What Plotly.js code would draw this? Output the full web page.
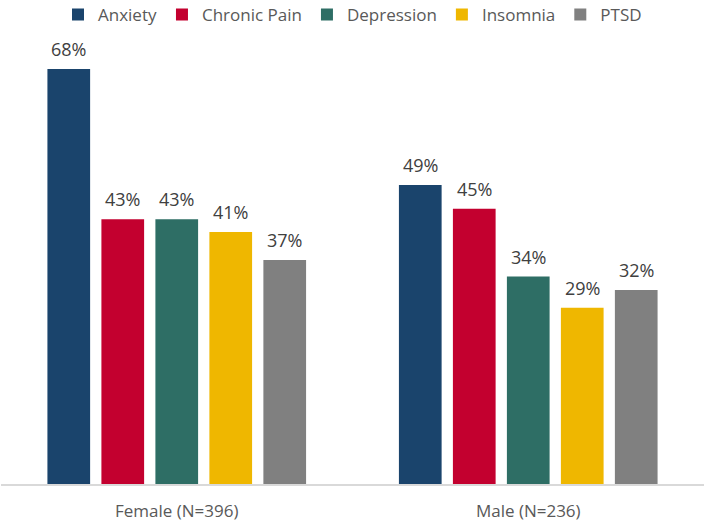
<!DOCTYPE html>
<html>
<head>
<meta charset="utf-8">
<script src="https://cdn.plot.ly/plotly-3.0.1.min.js"></script>
<style>
  html, body { margin: 0; padding: 0; background: #ffffff; }
  #chart { width: 705px; height: 522px; }
</style>
</head>
<body>
<div id="chart"></div>
<script>
// groups on the x axis
var groups = ['Female (N=396)', 'Male (N=236)'];

// one series per condition, share of respondents
var conditions = ['Anxiety', 'Chronic Pain', 'Depression', 'Insomnia', 'PTSD'];
var anxiety     = [0.680, 0.490];
var chronicPain = [0.434, 0.451];
var depression  = [0.434, 0.340];
var insomnia    = [0.413, 0.289];
var ptsd        = [0.367, 0.318];

var colors = ['#1a446c', '#c3002f', '#2e6e65', '#efb700', '#808080'];
var seriesValues = [anxiety, chronicPain, depression, insomnia, ptsd];

var W = 705, H = 522;
var margin = { l: 1, r: 1, t: 27, b: 38, pad: 0, autoexpand: false };
var bargap = 0.232, bargroupgap = 0.209;

// pixel width of one bar slot, so the value labels sit over their own bar
var catPx = (W - margin.l - margin.r) / groups.length;
var slotPx = catPx * (1 - bargap) / conditions.length;

var traces = [];
var annotations = [];
for (var i = 0; i < conditions.length; i++) {
  traces.push({
    type: 'bar',
    name: conditions[i],
    x: groups,
    y: seriesValues[i],
    marker: { color: colors[i] },
    hoverinfo: 'skip'
  });
  for (var j = 0; j < groups.length; j++) {
    annotations.push({
      x: groups[j],
      y: seriesValues[i][j],
      xref: 'x',
      yref: 'y',
      text: Math.round(seriesValues[i][j] * 100) + '%',
      showarrow: false,
      xanchor: 'center',
      yanchor: 'bottom',
      xshift: (i - (conditions.length - 1) / 2) * slotPx,
      yshift: 6,
      font: { family: 'Open Sans, sans-serif', size: 18, color: '#404040' }
    });
  }
}

var layout = {
  width: W,
  height: H,
  margin: margin,
  paper_bgcolor: '#ffffff',
  plot_bgcolor: '#ffffff',
  barmode: 'group',
  bargap: bargap,
  bargroupgap: bargroupgap,
  showlegend: true,
  legend: {
    orientation: 'h',
    x: 0.5,
    xanchor: 'center',
    y: 1.066,
    yanchor: 'top',
    font: { family: 'Open Sans, sans-serif', size: 17, color: '#595959' },
    itemwidth: 30,
    traceorder: 'normal'
  },
  annotations: annotations,
  xaxis: {
    showline: true,
    linecolor: '#d9d9d9',
    linewidth: 1.5,
    ticks: '',
    ticklabelstandoff: 11,
    tickfont: { family: 'Open Sans, sans-serif', size: 17, color: '#595959' },
    showgrid: false,
    zeroline: false
  },
  yaxis: {
    range: [0, 0.749],
    visible: false,
    showgrid: false,
    zeroline: false
  },
  font: { family: 'Open Sans, sans-serif' }
};

Plotly.newPlot('chart', traces, layout, { displayModeBar: false, staticPlot: true });
</script>
</body>
</html>
